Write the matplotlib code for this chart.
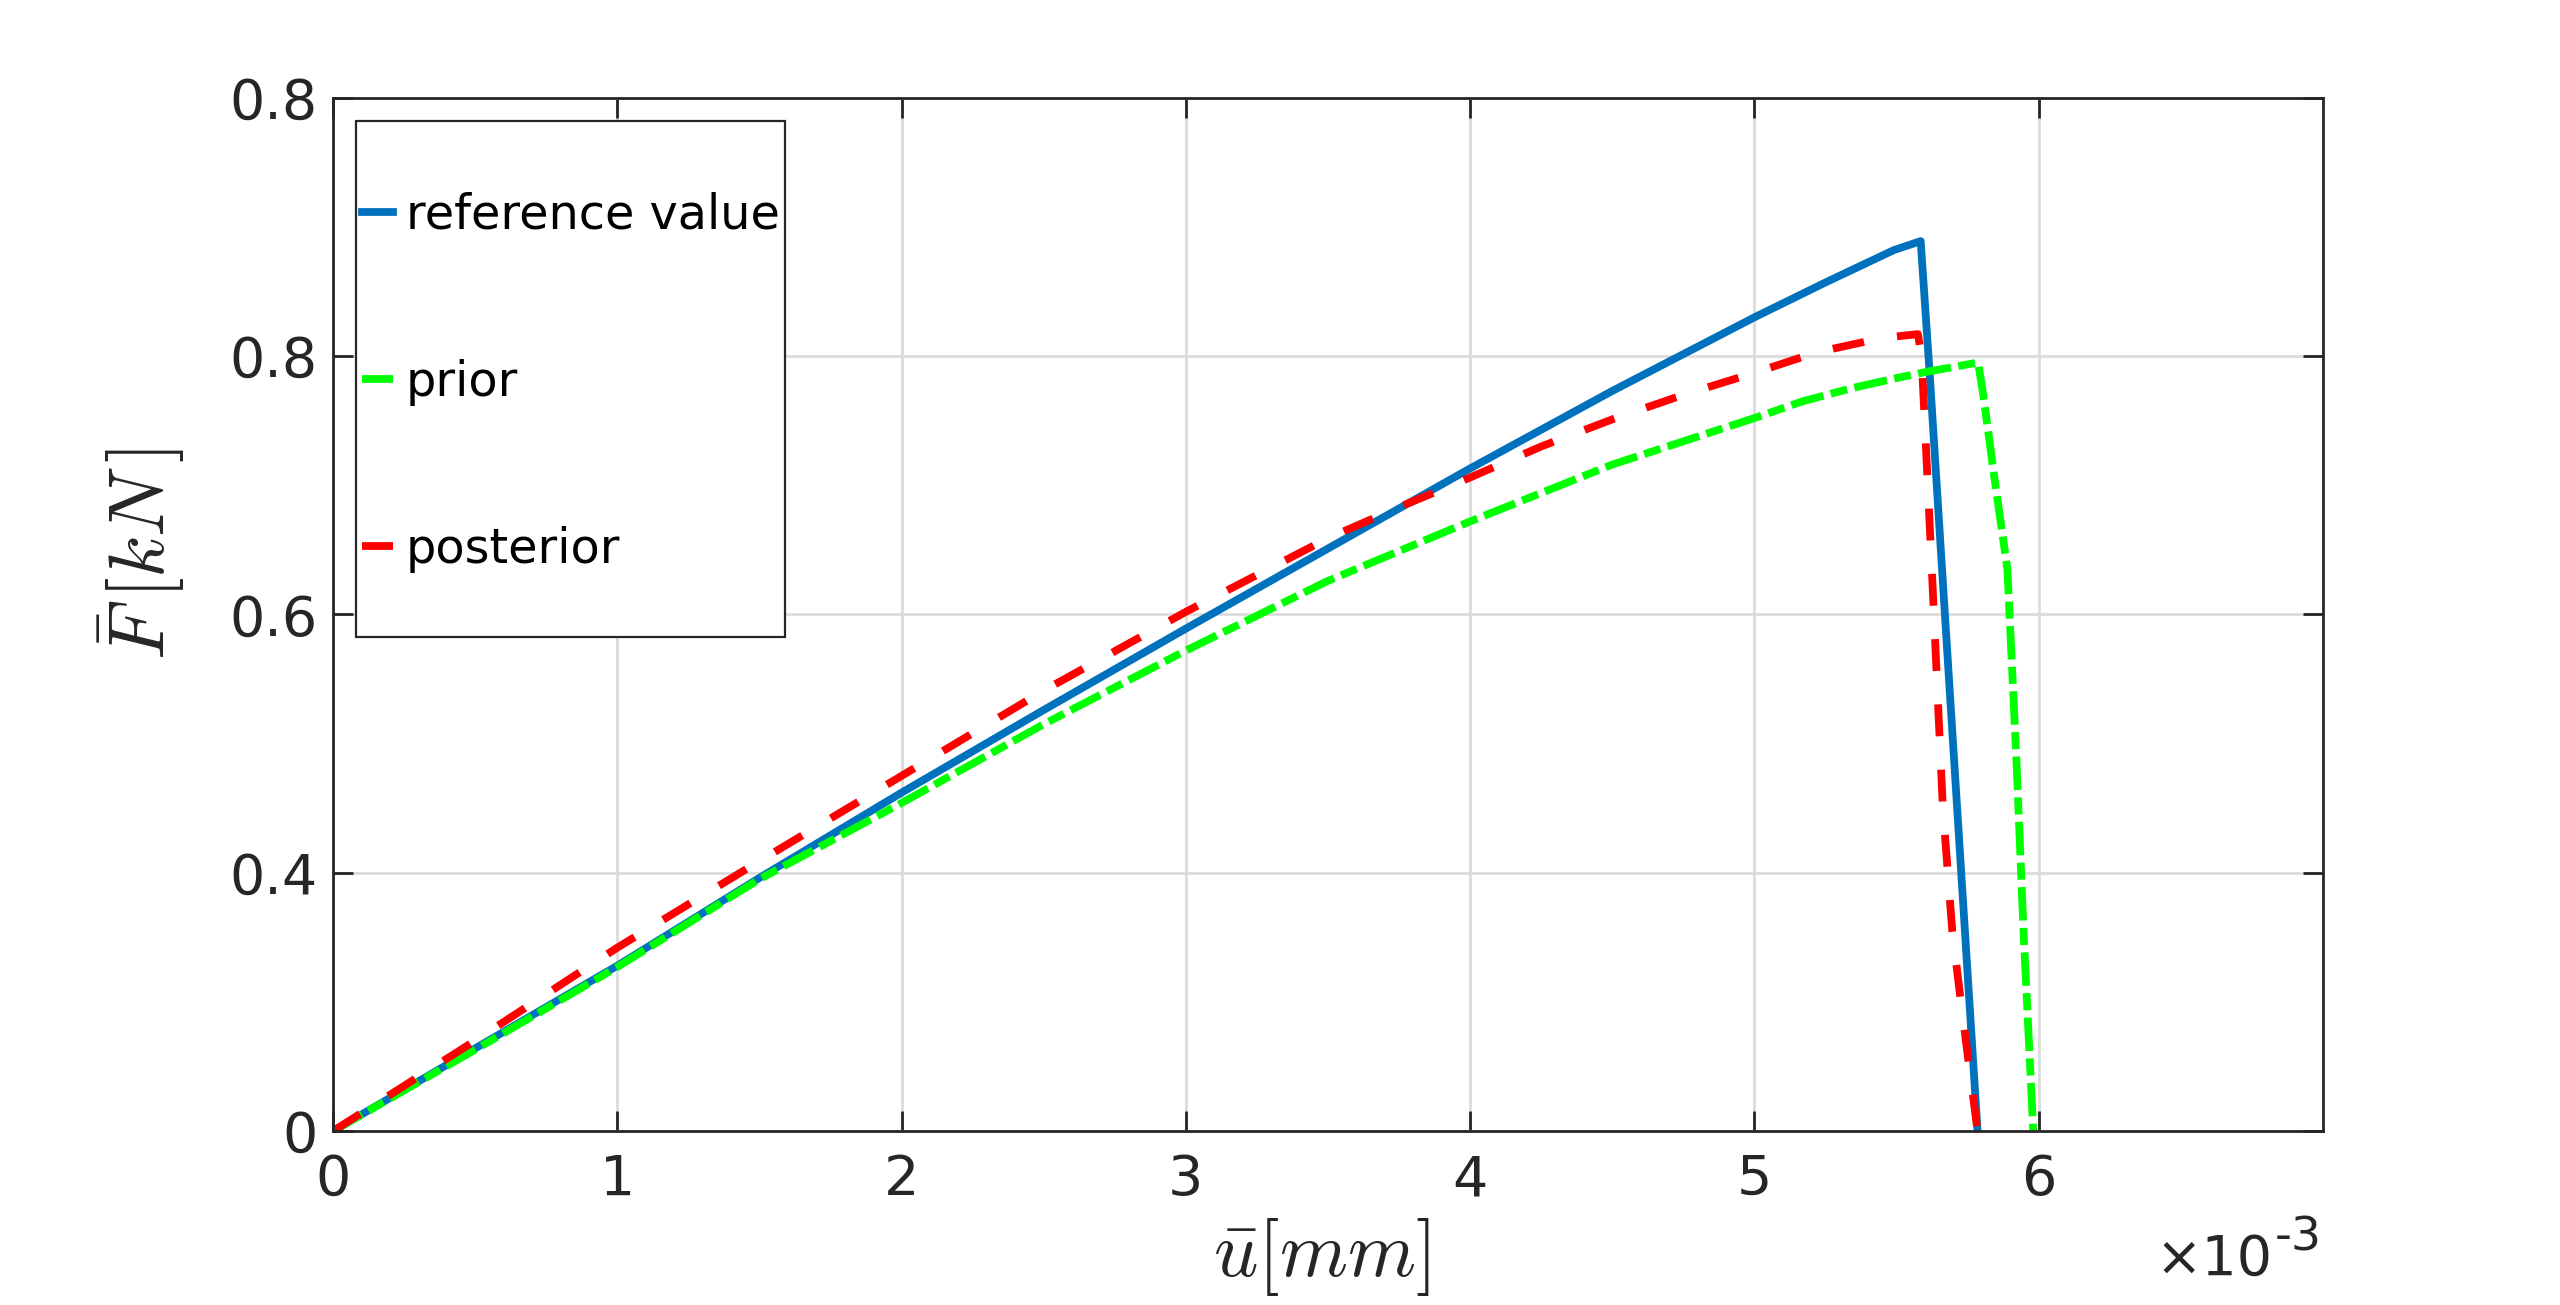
import matplotlib
matplotlib.use("Agg")
import matplotlib.pyplot as plt
from matplotlib.patches import Rectangle

plt.rcParams['font.family'] = ['DejaVu Sans']
plt.rcParams['mathtext.fontset'] = 'cm'

# displacement in units of 1e-3 mm, force in kN
u_ref = [0, 0.5, 1.0, 1.5, 2.0, 2.5, 3.0, 3.5, 4.0, 4.5, 5.0, 5.25, 5.49, 5.585, 5.617, 5.785]
F_ref = [0, 0.064, 0.128, 0.196, 0.262, 0.326, 0.389, 0.451, 0.513, 0.573, 0.630, 0.657, 0.682, 0.689, 0.585, 0.0]

u_prior = [0, 0.5, 1.0, 1.5, 2.0, 2.5, 3.0, 3.5, 4.0, 4.5, 5.0, 5.17, 5.34, 5.5, 5.61, 5.787,
           5.805, 5.846, 5.89, 5.922, 5.946, 5.981]
F_prior = [0, 0.063, 0.127, 0.195, 0.254, 0.315, 0.372, 0.426, 0.472, 0.516, 0.552, 0.565, 0.575, 0.583, 0.588, 0.595,
           0.570, 0.503, 0.435, 0.286, 0.158, 0.0]

u_post = [0, 0.5, 1.0, 1.5, 2.0, 2.5, 3.0, 3.5, 3.75, 4.0, 4.25, 4.5, 4.75, 5.0, 5.22, 5.45, 5.575,
          5.588, 5.623, 5.663, 5.696, 5.723, 5.752, 5.785]
F_post = [0, 0.070, 0.142, 0.209, 0.275, 0.341, 0.402, 0.459, 0.483, 0.506, 0.530, 0.551, 0.570, 0.587, 0.603, 0.614, 0.617,
          0.600, 0.440, 0.250, 0.155, 0.106, 0.056, 0.0]

xticks = [0, 1, 2, 3, 4, 5, 6]
yticks = [0, 0.2, 0.4, 0.6, 0.8]
ytick_labels = ['0', '0.4', '0.6', '0.8', '0.8']
labels = ['reference value', 'prior', 'posterior']

dark = '#262626'

fig = plt.figure(figsize=(12.8, 6.525), dpi=200)
ax = fig.add_axes([0.1301, 0.1333, 0.7773, 0.7918])

ax.plot(u_ref, F_ref, color='#0072BD', linewidth=2.8, label=labels[0])
ax.plot(u_prior, F_prior, color='#00FF00', linewidth=2.8, linestyle=(0, (4.3, 0.95, 2.2, 0.95)), label=labels[1])
ax.plot(u_post, F_post, color='#FF0000', linewidth=2.8, linestyle=(0, (4.1, 4.3)), label=labels[2])

ax.set_xlim(0, 7)
ax.set_ylim(0, 0.8)
ax.set_xticks(xticks)
ax.set_xticklabels([str(t) for t in xticks])
ax.set_yticks(yticks)
ax.set_yticklabels(ytick_labels)

ax.grid(True, color='#dcdcdc', linewidth=1.0)
ax.set_axisbelow(True)
for s in ax.spines.values():
    s.set_color(dark)
    s.set_linewidth(1.0)
ax.tick_params(direction='in', length=7.2, width=1.0, color=dark, labelcolor=dark,
               labelsize=20, top=True, right=True)
ax.tick_params(axis='x', pad=8)
ax.tick_params(axis='y', pad=5.5)

ax.set_xlabel(r'$\bar{u}[mm]$', fontsize=28, color=dark)
ax.set_ylabel(r'$\bar{F}\,[kN\,]$', fontsize=28, color=dark)
ax.xaxis.set_label_coords(0.4965, -0.0823)
ax.yaxis.set_label_coords(-0.0734, 0.558)

# exponent label
ax.text(0.9744, -0.1394, '\u00d710', transform=ax.transAxes, ha='right', va='baseline',
        fontsize=20, color=dark)
ax.text(0.9759, -0.1152, '-3', transform=ax.transAxes, ha='left', va='baseline',
        fontsize=17, color=dark)

# legend, box drawn separately
leg = ax.legend(loc='upper left', bbox_to_anchor=(0.0144, 0.9095), frameon=False,
                fontsize=17.2, handlelength=0.65, handletextpad=0.27, labelspacing=2.52,
                borderpad=0, borderaxespad=0)
for t in leg.get_texts():
    t.set_color('black')
ax.add_patch(Rectangle((0.01156, 0.4784), 0.2155, 0.4993, transform=ax.transAxes,
                       facecolor='white', edgecolor=dark, linewidth=0.8, zorder=4))
leg.set_zorder(5)

fig.savefig('out.png', dpi=200)
